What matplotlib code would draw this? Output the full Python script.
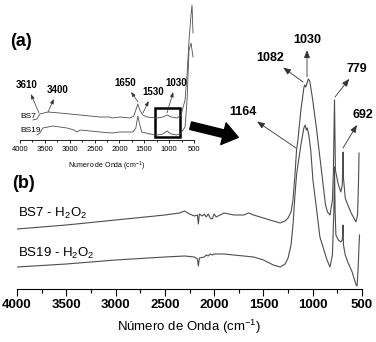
import matplotlib
matplotlib.use("Agg")
import matplotlib.pyplot as plt
from matplotlib.ticker import MultipleLocator
from matplotlib.patches import Rectangle, FancyArrowPatch

plt.rcParams['font.family'] = ['Liberation Sans', 'DejaVu Sans']
plt.rcParams['mathtext.fontset'] = 'custom'
plt.rcParams['mathtext.rm'] = 'Liberation Sans'
plt.rcParams['mathtext.it'] = 'Liberation Sans'

line_color = "#4d4d4d"

# main spectra (b): wavenumber, transmittance (arbitrary units)
bs7_wn = [4000, 3500, 3000, 2500, 2350, 2300, 2250, 2200, 2170, 2160, 2150, 2120, 2100, 2080,
          2060, 2040, 2020, 2000, 1980, 1900, 1800, 1700, 1650, 1600, 1500, 1400, 1330, 1280,
          1250, 1220, 1200, 1180, 1164, 1150, 1120, 1090, 1082, 1070, 1045, 1030, 1000, 960,
          930, 900, 870, 850, 825, 800, 790, 784, 779, 775, 770, 744, 715, 700, 692, 688, 670,
          652, 610, 561, 545, 535, 530]
bs7_t = [60, 64, 69, 74, 76, 78, 75, 73, 74, 65, 75, 73, 75, 72,
         75, 71, 70, 75, 72, 76, 74, 74, 76, 74, 71, 68, 66, 68,
         71, 77, 89, 114, 139, 149, 179, 201, 204, 202, 210, 208, 189, 159,
         134, 109, 84, 77, 74, 89, 119, 159, 189, 159, 119, 106, 97, 104, 137, 111, 91,
         86, 76, 67, 74, 109, 136]

bs19_wn = [4000, 3500, 3000, 2500, 2300, 2200, 2170, 2160, 2150, 2100, 2080, 2060, 2040, 2020,
           2000, 1900, 1800, 1700, 1600, 1500, 1400, 1330, 1280, 1250, 1220, 1200, 1180, 1164,
           1150, 1120, 1090, 1075, 1065, 1055, 1040, 1020, 998, 960, 927, 880, 855, 825, 800,
           785, 779, 773, 765, 740, 715, 700, 692, 688, 670, 640, 600, 560, 550, 540, 530, 525]
bs19_t = [22, 25, 29, 32, 33, 32, 30, 23, 31, 32, 34, 33, 35, 34,
          35, 35, 34, 33, 32, 29, 24, 22, 25, 31, 44, 64, 94, 114,
          124, 144, 161, 164, 159, 161, 154, 139, 109, 79, 52, 37, 29, 22, 34,
          79, 122, 79, 54, 49, 47, 49, 64, 44, 34, 26, 17, 4, 3, 19, 44, 54]

# inset spectra (a)
in7_wn = [3740, 3660, 3600, 3520, 3440, 3200, 2790, 2390, 2190, 2150, 1990, 1790, 1710, 1670,
          1630, 1590, 1530, 1450, 1245, 1125, 1043, 960, 842, 760, 680, 640, 600, 560, 540, 520]
in7_t = [20, 21, 26, 27, 28, 27, 25, 23, 23, 22, 23, 22, 24, 30,
         36, 30, 25, 23, 22, 23, 25, 23, 22, 25, 40, 65, 100, 125, 135, 107]

in19_wn = [3660, 3600, 3540, 3340, 3055, 2915, 2855, 2790, 2590, 2390, 2150, 1990, 1730, 1670,
           1630, 1590, 1550, 1385, 1245, 1125, 1043, 960, 842, 760, 680, 640, 600, 560, 520]
in19_t = [5, 7, 12, 14, 12, 10, 8, 10, 9, 8, 7, 8, 8, 12,
          24, 15, 8, 6, 5, 6, 9, 6, 5, 7, 13, 40, 90, 97, 83]

ticks = [4000, 3500, 3000, 2500, 2000, 1500, 1000, 500]
tick_labels = ["4000", "3500", "3000", "2500", "2000", "1500", "1000", "500"]

# peak labels: (label, peak position, label position)
main_peaks = [("1164", (1170, 141), (1707, 177)),
              ("1082", (1098, 207), (1433, 231)),
              ("1030", (1058, 212), (1058, 249)),
              ("779", (774, 192), (551, 220)),
              ("692", (693, 141), (490, 174))]
inset_peaks = [("3610", (3618, 27), (3859, 55)),
               ("3400", (3437, 28), (3236, 50)),
               ("1650", (1627, 38), (1888, 57)),
               ("1530", (1527, 27), (1325, 48)),
               ("1030", (1044, 27), (863, 57))]

fig = plt.figure(figsize=(3.76, 3.42), dpi=100)

# ---- main plot (b)
ax = fig.add_axes([17/376, 53/342, 345/376, 289/342])
ax.patch.set_alpha(0)
ax.plot(bs7_wn, bs7_t, color=line_color, lw=0.8)
ax.plot(bs19_wn, bs19_t, color=line_color, lw=0.8)
ax.set_xlim(4000, 500)
ax.set_ylim(0, 289)
for s in ["top", "right", "left"]:
    ax.spines[s].set_visible(False)
ax.spines["bottom"].set_linewidth(0.8)
ax.set_yticks([])
ax.set_xticks(ticks, tick_labels, fontweight="bold", fontsize=9.5)
ax.xaxis.set_minor_locator(MultipleLocator(250))
ax.tick_params(axis="x", which="major", length=5, width=0.8, pad=2)
ax.tick_params(axis="x", which="minor", length=3, width=0.8)
ax.set_xlabel("Número de Onda (cm$^{-1}$)", fontsize=9.5, labelpad=5)

ax.text(3990, 72, "BS7 - H$_2$O$_2$", fontsize=9.5, va="baseline")
ax.text(3990, 32, "BS19 - H$_2$O$_2$", fontsize=9.5, va="baseline")

for lab, xy, xyt in main_peaks:
    ax.annotate(lab, xy=xy, xytext=xyt, fontsize=9, fontweight="bold",
                ha="center", va="center", annotation_clip=False,
                arrowprops=dict(arrowstyle="<|-,head_length=0.5,head_width=0.2",
                                color="#333333", lw=0.6, shrinkA=1, shrinkB=0))

# ---- inset (a)
ins = fig.add_axes([20/376, 202/342, 174/376, 140/342])
ins.patch.set_alpha(0)
ins.plot(in7_wn, in7_t, color=line_color, lw=0.6)
ins.plot(in19_wn, in19_t, color=line_color, lw=0.6)
ins.set_xlim(4000, 500)
ins.set_ylim(0, 140)
for s in ["top", "right", "left"]:
    ins.spines[s].set_visible(False)
ins.spines["bottom"].set_linewidth(0.6)
ins.set_yticks([])
ins.set_xticks(ticks, tick_labels, fontsize=5.5)
ins.xaxis.set_minor_locator(MultipleLocator(250))
ins.tick_params(axis="x", which="major", length=2.5, width=0.6, pad=1.5)
ins.tick_params(axis="x", which="minor", length=1.5, width=0.6)
ins.set_xlabel("Numero de Onda (cm$^{-1}$)", fontsize=5, labelpad=5)
ins.text(4000, 24, "BS7", fontsize=6, va="center")
ins.text(4000, 10, "BS19", fontsize=6, va="center")
# zoom box (1285 -> 782 cm-1)
ins.add_patch(Rectangle((782, 3), 1285 - 782, 29, fill=False, lw=1.8, ec="black"))

for lab, xy, xyt in inset_peaks:
    ins.annotate(lab, xy=xy, xytext=xyt, fontsize=7, fontweight="bold",
                 ha="center", va="center", annotation_clip=False,
                 arrowprops=dict(arrowstyle="<|-,head_length=0.4,head_width=0.15",
                                 color="#333333", lw=0.5, shrinkA=1, shrinkB=0))

# big arrow from inset box to main peaks
fig.patches.append(FancyArrowPatch(
    (188, 217), (241, 204), transform=None,
    arrowstyle="simple,head_length=1.1,head_width=1.6,tail_width=0.55",
    mutation_scale=10, color="black"))

fig.text(21/376, 1 - 42/342, "(a)", fontsize=13, fontweight="bold", ha="center", va="center")
fig.text(24/376, 1 - 183/342, "(b)", fontsize=13, fontweight="bold", ha="center", va="center")

plt.savefig("out.png", dpi=100)
